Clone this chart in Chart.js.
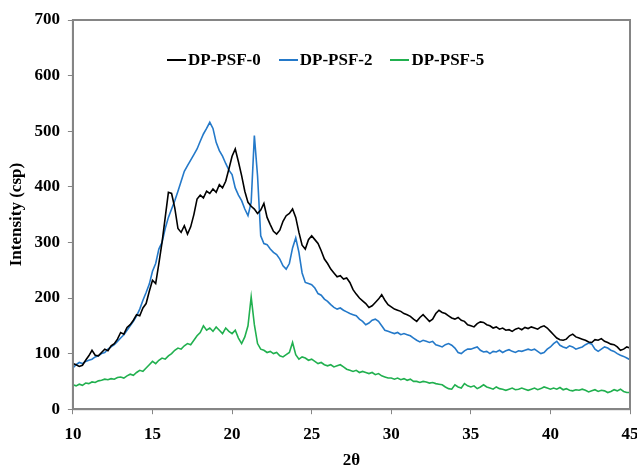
<!DOCTYPE html>
<html>
<head>
<meta charset="utf-8">
<script src="https://cdn.jsdelivr.net/npm/chart.js@4.4.1/dist/chart.umd.min.js"></script>
<style>
    html, body { margin: 0; padding: 0; background: #ffffff; }
    #wrap { position: relative; width: 637px; height: 468px; }
    #legend {
        position: absolute; top: 50px; left: 167px;
        display: flex; align-items: center;
        font-family: "Liberation Serif", "Times New Roman", serif;
        font-weight: bold; font-size: 17px; color: #000;
    }
    .item { display: flex; align-items: center; margin-right: 18px; }
    .swatch { width: 19px; height: 0; border-top: 2px solid; margin-right: 2px; }
</style>
</head>
<body>
<div id="wrap">
    <canvas id="xrdChart" width="637" height="468"></canvas>
    <div id="legend"></div>
</div>
<script>
/* ========================================
   XRD patterns DP-PSF-0 / 2 / 5
   ======================================== */

const twoTheta = [
    10.0, 10.2, 10.4, 10.6, 10.8, 11.0, 11.2, 11.4, 11.6, 11.8,
    12.0, 12.2, 12.4, 12.6, 12.8, 13.0, 13.2, 13.4, 13.6, 13.8,
    14.0, 14.2, 14.4, 14.6, 14.8, 15.0, 15.2, 15.4, 15.6, 15.8,
    16.0, 16.2, 16.4, 16.6, 16.8, 17.0, 17.2, 17.4, 17.6, 17.8,
    18.0, 18.2, 18.4, 18.6, 18.8, 19.0, 19.2, 19.4, 19.6, 19.8,
    20.0, 20.2, 20.4, 20.6, 20.8, 21.0, 21.2, 21.4, 21.6, 21.8,
    22.0, 22.2, 22.4, 22.6, 22.8, 23.0, 23.2, 23.4, 23.6, 23.8,
    24.0, 24.2, 24.4, 24.6, 24.8, 25.0, 25.2, 25.4, 25.6, 25.8,
    26.0, 26.2, 26.4, 26.6, 26.8, 27.0, 27.2, 27.4, 27.6, 27.8,
    28.0, 28.2, 28.4, 28.6, 28.8, 29.0, 29.2, 29.4, 29.6, 29.8,
    30.0, 30.2, 30.4, 30.6, 30.8, 31.0, 31.2, 31.4, 31.6, 31.8,
    32.0, 32.2, 32.4, 32.6, 32.8, 33.0, 33.2, 33.4, 33.6, 33.8,
    34.0, 34.2, 34.4, 34.6, 34.8, 35.0, 35.2, 35.4, 35.6, 35.8,
    36.0, 36.2, 36.4, 36.6, 36.8, 37.0, 37.2, 37.4, 37.6, 37.8,
    38.0, 38.2, 38.4, 38.6, 38.8, 39.0, 39.2, 39.4, 39.6, 39.8,
    40.0, 40.2, 40.4, 40.6, 40.8, 41.0, 41.2, 41.4, 41.6, 41.8,
    42.0, 42.2, 42.4, 42.6, 42.8, 43.0, 43.2, 43.4, 43.6, 43.8,
    44.0, 44.2, 44.4, 44.6, 44.8, 45.0
];

const psf0 = [
    82, 80, 77, 79, 88, 96, 106, 97, 96, 102,
    108, 105, 114, 118, 126, 138, 135, 147, 152, 160,
    170, 168, 182, 190, 212, 232, 226, 262, 300, 345,
    390, 388, 362, 325, 318, 330, 315, 328, 350, 378,
    385, 380, 392, 388, 396, 390, 404, 398, 410, 432,
    455, 468, 445, 420, 392, 372, 365, 360, 352, 358,
    370, 345, 332, 320, 315, 322, 338, 348, 352, 360,
    345, 318, 295, 288, 305, 312, 305, 298, 285, 270,
    262, 252, 245, 238, 240, 234, 236, 228, 215, 207,
    200, 195, 190, 183, 186, 192, 198, 206, 196, 188,
    184, 180, 178, 176, 172, 170, 167, 162, 158, 165,
    170, 164, 158, 162, 172, 178, 174, 172, 168, 164,
    162, 165, 160, 158, 152, 150, 148, 154, 157, 156,
    152, 150, 146, 148, 144, 146, 142, 143, 140, 144,
    146, 143, 147, 145, 148, 146, 144, 148, 150, 146,
    140, 134, 128, 125, 124, 126, 132, 135, 130, 128,
    126, 124, 121, 120, 125, 124, 127, 122, 120, 117,
    116, 112, 106, 108, 112, 110
];

const psf2 = [
    74, 80, 84, 82, 86, 88, 90, 94, 96, 100,
    102, 108, 112, 116, 122, 128, 134, 142, 150, 158,
    168, 180, 196, 210, 225, 248, 262, 288, 300, 325,
    345, 360, 375, 392, 410, 428, 438, 448, 458, 468,
    482, 495, 505, 516, 505, 480, 465, 455, 442, 430,
    422, 398, 385, 375, 360, 348, 372, 492, 420, 312,
    298, 296, 288, 282, 278, 270, 258, 252, 262, 290,
    308, 282, 245, 228, 226, 224, 218, 208, 205, 198,
    194, 188, 183, 180, 182, 178, 175, 172, 170, 168,
    162, 158, 152, 155, 160, 162, 158, 150, 142, 140,
    138, 136, 138, 134, 136, 134, 132, 128, 124, 121,
    124, 122, 120, 122, 116, 114, 112, 116, 118, 115,
    110, 102, 100, 105, 108, 108, 110, 112, 106, 103,
    104, 100, 104, 103, 106, 102, 105, 107, 104, 102,
    105, 104, 106, 108, 106, 108, 104, 100, 102, 108,
    112, 118, 122, 115, 112, 110, 114, 112, 108, 110,
    112, 116, 119, 117, 108, 104, 108, 112, 110, 106,
    104, 100, 97, 95, 92, 89
];

const psf5 = [
    44, 42, 45, 43, 47, 46, 49, 48, 51, 52,
    54, 53, 55, 54, 57, 58, 56, 60, 63, 61,
    66, 70, 68, 74, 80, 86, 82, 88, 92, 90,
    96, 100, 106, 110, 108, 114, 118, 116, 124, 132,
    138, 150, 142, 146, 140, 148, 142, 136, 146, 140,
    136, 142, 128, 118, 130, 150, 202, 152, 118, 108,
    106, 102, 104, 100, 102, 96, 94, 98, 102, 120,
    98, 90, 94, 92, 88, 90, 86, 82, 84, 80,
    78, 80, 76, 78, 80, 76, 72, 70, 68, 70,
    66, 68, 66, 64, 66, 62, 64, 60, 58, 56,
    56, 54, 56, 53, 55, 52, 54, 50, 50, 48,
    50, 49, 47, 48, 46, 45, 44, 40, 37, 36,
    44, 40, 38, 46, 42, 40, 42, 37, 40, 44,
    40, 38, 36, 40, 37, 36, 34, 36, 38, 35,
    36, 38, 36, 34, 36, 38, 35, 37, 40, 38,
    36, 38, 36, 39, 35, 37, 34, 33, 35, 34,
    36, 34, 31, 33, 35, 32, 34, 33, 30, 32,
    35, 33, 36, 32, 30, 30
];

const seriesNames = ['DP-PSF-0', 'DP-PSF-2', 'DP-PSF-5'];
const seriesColors = ['#000000', '#2479c9', '#21b04f'];
const xTicks = [10, 15, 20, 25, 30, 35, 40, 45];
const yTicks = [0, 100, 200, 300, 400, 500, 600, 700];

const FONT = { family: '"Liberation Serif", "Times New Roman", serif', size: 17, weight: 'bold' };
const AXIS_GRAY = '#858585';

function toPoints(values) {
    return twoTheta.map((t, i) => ({ x: t, y: values[i] }));
}

// box around the plot area
const frameBox = {
    id: 'frameBox',
    afterDraw(chart) {
        const { ctx, chartArea: a } = chart;
        ctx.save();
        ctx.strokeStyle = AXIS_GRAY;
        ctx.lineWidth = 2;
        ctx.strokeRect(a.left, a.top, a.right - a.left, a.bottom - a.top);
        ctx.restore();
    }
};

function buildLegend() {
    const box = document.getElementById('legend');
    box.innerHTML = seriesNames.map((name, i) => `
        <div class="item">
            <span class="swatch" style="border-color:${seriesColors[i]}"></span>
            <span>${name}</span>
        </div>
    `).join('');
}

function initializeChart() {
    const ctx = document.getElementById('xrdChart').getContext('2d');

    new Chart(ctx, {
        type: 'line',
        data: {
            datasets: [psf0, psf2, psf5].map((values, i) => ({
                label: seriesNames[i],
                data: toPoints(values),
                borderColor: seriesColors[i],
                borderWidth: 1.6,
                pointRadius: 0,
                tension: 0,
                fill: false
            }))
        },
        options: {
            responsive: false,
            animation: false,
            layout: { padding: { left: 6, top: 20, right: 7, bottom: -3 } },
            plugins: {
                legend: { display: false },
                tooltip: { enabled: false }
            },
            scales: {
                x: {
                    type: 'linear',
                    min: 10,
                    max: 45,
                    afterBuildTicks: axis => { axis.ticks = xTicks.map(v => ({ value: v })); },
                    // let the last label hang past the plot edge, as in the original
                    afterFit: axis => { axis.paddingRight = 0; },
                    grid: { drawOnChartArea: false, tickLength: 5, color: AXIS_GRAY, lineWidth: 1 },
                    border: { color: AXIS_GRAY, width: 2 },
                    ticks: { color: '#000', font: FONT, padding: 10, maxRotation: 0 },
                    title: { display: true, text: '2θ', color: '#000', font: FONT, padding: { top: -4, bottom: 0 } }
                },
                y: {
                    min: 0,
                    max: 700,
                    afterBuildTicks: axis => { axis.ticks = yTicks.map(v => ({ value: v })); },
                    afterFit: axis => { axis.paddingTop = 0; },
                    grid: { drawOnChartArea: false, tickLength: 5, color: AXIS_GRAY, lineWidth: 1 },
                    border: { color: AXIS_GRAY, width: 2 },
                    ticks: { color: '#000', font: FONT, padding: 8 },
                    title: { display: true, text: 'Intensity (csp)', color: '#000', font: FONT, padding: { top: 0, bottom: 0 } }
                }
            }
        },
        plugins: [frameBox]
    });
}

document.addEventListener('DOMContentLoaded', function() {
    buildLegend();
    initializeChart();
});
</script>
</body>
</html>
